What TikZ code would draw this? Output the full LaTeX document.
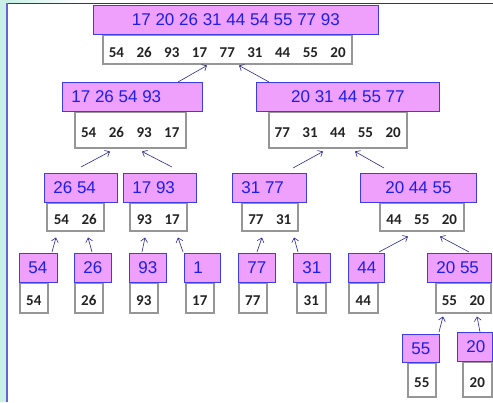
\documentclass[tikz,border=0pt]{standalone}
\usepackage{fontspec}
\setmainfont{Liberation Sans}
\newfontfamily\carfont{Carlito}
\usetikzlibrary{calc,arrows.meta}
\definecolor{pfill}{RGB}{238,160,252}
\definecolor{pdraw}{RGB}{60,60,235}
\definecolor{ptext}{RGB}{30,30,230}
\definecolor{wdraw}{RGB}{150,150,150}
\definecolor{wtext}{RGB}{35,35,35}
\definecolor{arrc}{RGB}{40,40,150}
\definecolor{bgc}{RGB}{200,240,230}
\definecolor{topl}{RGB}{40,50,160}
\definecolor{leftl}{RGB}{100,100,210}
\newcommand\wsep{\hspace{12.5pt}}
\newcommand\pin{\hspace*{9pt}}
\tikzset{
  pinkst/.style={draw=pdraw, fill=pfill, text=ptext, line width=0.8pt, inner sep=0pt, anchor=north west, font=\fontsize{17}{20}\selectfont},
  whitest/.style={draw=wdraw, fill=white, text=wtext, line width=1.5pt, inner sep=0pt, anchor=north west, text height=16pt, text depth=0pt, font={\carfont\bfseries\fontsize{15}{18}\selectfont}},
  arr/.style={draw=arrc, line width=0.6pt, -{Straight Barb[length=4pt,width=7pt]}}
}
\newcommand\mkpink[7]{\node[pinkst,minimum width=#4pt,minimum height=#5pt] (#1) at (#2,#3) {\makebox[#4pt][#6]{#7}};}
\newcommand\mkwhite[6]{\node[whitest,minimum width=#4pt,minimum height=#5pt] (#1) at (#2,#3) {#6};}
\newcommand\mkarr[6]{\draw[arr] ($(#1.north west)+(#2,#3)$) -- ($(#4.south west)+(#5,#6)$);}
\begin{document}
\begin{tikzpicture}[x=1pt,y=-1pt]
\useasboundingbox (0,0) rectangle (493,402);
% background
\fill[bgc] (0,0) rectangle (493,402);
\shade[left color=bgc, right color=white] (7,0) rectangle (80,3);
\fill[white] (80,0) rectangle (493,3);
\fill[white] (7,3) rectangle (493,402);
\draw[topl, line width=1.2pt] (6,3.6) -- (493,3.6);
\draw[leftl, line width=1.6pt] (7,3) -- (7,402);
% white boxes
\mkwhite{W0}{102}{34}{249}{29}{54\wsep26\wsep93\wsep17\wsep77\wsep31\wsep44\wsep55\wsep20}
\mkwhite{W1}{74}{111}{111}{36}{54\wsep26\wsep93\wsep17}
\mkwhite{W2}{268}{111}{138}{36}{77\wsep31\wsep44\wsep55\wsep20}
\mkwhite{W3}{46}{202}{57}{28}{54\wsep26}
\mkwhite{W4}{129}{202}{57}{28}{93\wsep17}
\mkwhite{W5}{241}{202}{56}{28}{77\wsep31}
\mkwhite{W6}{379}{202}{84}{28}{44\wsep55\wsep20}
\mkwhite{W7}{19}{282}{28}{30}{54}
\mkwhite{W8}{74}{282}{28}{30}{26}
\mkwhite{W9}{129}{282}{28}{30}{93}
\mkwhite{W10}{185}{282}{28}{30}{17}
\mkwhite{W11}{238}{282}{28}{30}{77}
\mkwhite{W12}{296}{282}{29}{30}{31}
\mkwhite{W13}{348}{282}{29}{30}{44}
\mkwhite{W14}{435}{282}{55}{30}{55\wsep20}
\mkwhite{W15}{407}{362}{28}{34}{55}
\mkwhite{W16}{462}{361}{29}{35}{20}
% pink boxes
\mkpink{P0}{93}{5}{285}{29}{c}{17 20 26 31 44 54 55 77 93}
\mkpink{P1}{62}{82}{140}{29}{l}{\pin 17 26 54 93}
\mkpink{P2}{256}{82}{183}{29}{c}{20 31 44 55 77}
\mkpink{P3}{44}{173}{73}{29}{l}{\pin 26 54}
\mkpink{P4}{123}{173}{73}{29}{l}{\pin 17 93}
\mkpink{P5}{232}{173}{74}{29}{l}{\pin 31 77}
\mkpink{P6}{360}{173}{116}{29}{c}{20 44 55}
\mkpink{P7}{19}{253}{38}{29}{l}{\pin 54}
\mkpink{P8}{74}{253}{37}{29}{l}{\pin 26}
\mkpink{P9}{129}{253}{37}{29}{l}{\pin 93}
\mkpink{P10}{184}{253}{36}{29}{l}{\pin 1}
\mkpink{P11}{238}{253}{37}{29}{l}{\pin 77}
\mkpink{P12}{293}{253}{37}{29}{l}{\pin 31}
\mkpink{P13}{348}{253}{36}{29}{l}{\pin 44}
\mkpink{P14}{427}{253}{64}{29}{l}{\pin 20 55}
\mkpink{P15}{402}{334}{37}{28}{l}{\pin 55}
\mkpink{P16}{457}{332}{35}{29}{l}{\pin 20}
% arrows
\mkarr{P1}{116}{0}{W0}{105}{1}
\mkarr{P2}{13}{0}{W0}{137}{1}
\mkarr{P3}{37}{-6}{W1}{36}{3}
\mkarr{P4}{49}{-6}{W1}{68}{3}
\mkarr{P5}{61}{-5}{W2}{55}{3}
\mkarr{P6}{24}{-5}{W2}{87}{3}
\mkarr{P7}{33}{-1}{W3}{10}{6}
\mkarr{P8}{18}{-1}{W3}{42}{6}
\mkarr{P9}{13}{-1}{W4}{16}{6}
\mkarr{P10}{-1}{-1}{W4}{49}{6}
\mkarr{P11}{19}{-1}{W5}{21}{6}
\mkarr{P12}{5}{-1}{W5}{53}{6}
\mkarr{P13}{31}{-1}{W6}{29}{5}
\mkarr{P14}{42}{-1}{W6}{61}{5}
\mkarr{P15}{37}{-2}{W14}{8}{3}
\mkarr{P16}{23}{0}{W14}{42}{3}
\end{tikzpicture}
\end{document}
